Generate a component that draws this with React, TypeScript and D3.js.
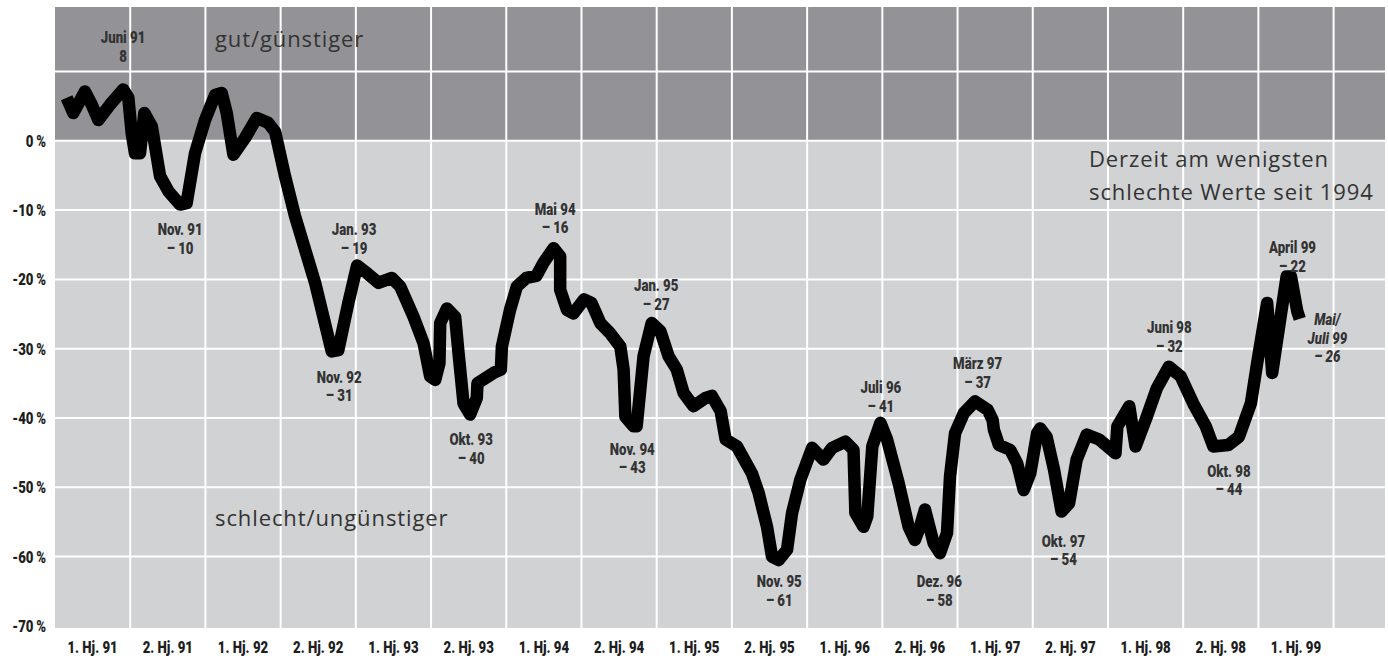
import React from 'react';
import * as d3 from 'd3';

const W = 1388;
const H = 658;

// x axis categories (half years)
const halfYears = [
  '1. Hj. 91', '2. Hj. 91', '1. Hj. 92', '2. Hj. 92', '1. Hj. 93', '2. Hj. 93',
  '1. Hj. 94', '2. Hj. 94', '1. Hj. 95', '2. Hj. 95', '1. Hj. 96', '2. Hj. 96',
  '1. Hj. 97', '2. Hj. 97', '1. Hj. 98', '2. Hj. 98', '1. Hj. 99',
];
const yTicks = [0, -10, -20, -30, -40, -50, -60, -70];
const yGrid = [10, 0, -10, -20, -30, -40, -50, -60];

// months since Jan 1991
const months = [
  0.93, 1.46, 2.39, 2.93, 3.46, 4.39, 5.45, 5.85, 6.12, 6.38, 6.78, 7.13, 7.72, 8.38, 9.05, 9.98,
  10.5, 11.17, 11.97, 12.77, 13.3, 13.7, 14.23, 15.16, 16.1, 17.0, 17.56, 18.36, 19.15, 20.75,
  22.08, 22.6, 23.4, 24.1, 24.9, 25.8, 26.87, 27.53, 28.6, 29.4, 29.93, 30.33, 30.67, 30.73,
  31.26, 31.92, 32.19, 32.59, 33.12, 33.65, 33.7, 34.98, 35.57, 35.65, 36.3, 36.85, 37.6, 38.4,
  38.97, 39.77, 40.3, 40.3, 40.84, 41.37, 42.2, 42.8, 43.5, 44.3, 45.1, 45.36, 45.5, 46.15, 46.4,
  46.95, 47.6, 48.3, 48.95, 49.6, 50.15, 50.94, 51.9, 52.4, 53.1, 53.5, 54.4, 55.6, 56.13, 56.8,
  57.2, 57.73, 58.4, 58.8, 59.46, 60.4, 61.3, 62.0, 63.05, 63.7, 63.85, 64.5, 64.8, 65.2, 65.85,
  66.38, 67.3, 68.1, 68.6, 69.0, 69.4, 70.1, 70.6, 71.16, 71.4, 71.8, 72.5, 73.4, 74.4, 74.8,
  74.9, 75.3, 76.2, 76.75, 77.28, 77.8, 78.35, 78.6, 79.1, 79.7, 80.3, 80.9, 81.5, 82.3, 83.3,
  84.6, 84.75, 85.7, 86.2, 87.0, 87.9, 88.85, 89.8, 90.8, 91.8, 92.4, 93.6, 94.45, 95.4, 95.9,
  96.7, 97.1, 98.25, 98.6, 99.1, 99.3,
];
// balance in %
const values = [
  6.2, 4.0, 7.1, 5.2, 3.0, 5.2, 7.4, 6.2, 1.1, -1.8, -1.8, 4.0, 2.1, -5.1, -7.3, -9.2,
  -9.0, -1.8, 3.0, 6.6, 6.9, 4.0, -2.0, 0.4, 3.3, 2.6, 1.3, -5.2, -10.9, -20.5,
  -30.4, -30.2, -23.4, -18.0, -19.1, -20.5, -19.8, -21.0, -25.4, -29.2, -34.0, -34.5, -32.1, -26.3,
  -24.2, -25.4, -30.6, -37.9, -39.5, -37.1, -35.0, -33.5, -33.0, -29.7, -24.4, -21.0, -19.8, -19.5,
  -17.6, -15.5, -16.7, -21.5, -24.4, -24.9, -22.9, -23.4, -26.3, -27.8, -29.7, -33.0, -39.8, -41.2, -41.2,
  -31.1, -26.3, -27.5, -31.1, -33.0, -36.4, -38.3, -37.1, -36.8, -39.0, -43.1, -44.1, -48.0, -50.8, -55.7,
  -60.0, -60.5, -59.0, -53.7, -48.9, -44.3, -46.0, -44.3, -43.4, -44.6, -53.7, -55.7, -54.2, -44.1, -40.7,
  -43.1, -49.4, -55.7, -57.6, -55.7, -53.2, -58.1, -59.5, -56.6, -48.4, -42.2, -39.3, -37.6, -38.8, -40.3,
  -41.7, -43.9, -44.6, -46.5, -50.4, -48.0, -42.2, -41.5, -42.7, -47.5, -53.5, -52.3, -46.0, -42.4, -43.1,
  -45.1, -41.2, -38.3, -44.1, -40.3, -35.7, -32.6, -34.0, -37.9, -41.2, -44.1, -43.9, -42.7, -37.9, -32.1,
  -23.4, -33.5, -19.6, -19.6, -24.6, -25.7,
];

// callouts: text, anchor month, anchor value (first baseline)
const annText = [
  ['Juni 91', '8'], ['Nov. 91', '\u2013 10'], ['Nov. 92', '\u2013 31'], ['Jan. 93', '\u2013 19'],
  ['Okt. 93', '\u2013 40'], ['Mai 94', '\u2013 16'], ['Nov. 94', '\u2013 43'], ['Jan. 95', '\u2013 27'],
  ['Nov. 95', '\u2013 61'], ['Juli 96', '\u2013 41'], ['Dez. 96', '\u2013 58'], ['März 97', '\u2013 37'],
  ['Okt. 97', '\u2013 54'], ['Juni 98', '\u2013 32'], ['Okt. 98', '\u2013 44'], ['April 99', '\u2013 22'],
];
const annMonth = [5.43, 9.98, 22.67, 23.86, 33.2, 39.9, 46.05, 47.96, 57.78, 65.88, 70.55, 73.6, 80.45, 88.9, 93.65, 98.72];
const annValue = [14.1, -13.6, -34.9, -13.6, -43.9, -10.7, -45.3, -21.7, -64.4, -36.4, -64.4, -33.0, -58.6, -27.8, -48.5, -16.2];
const lastText = ['Mai/', 'Juli 99', '\u2013 26'];
const lastMonth = 101.5;
const lastValue = -26.6;

const humanist = '"Open Sans", "Noto Sans", sans-serif';
const SX = 0.8; // squeeze Roboto into a condensed face

function Cond({ x, y, lines, anchor = 'middle', italic = false, fill = '#333', lh = 18.5 }: {
  x: number; y: number; lines: string[]; anchor?: string; italic?: boolean; fill?: string; lh?: number;
}) {
  return (
    <text transform={`scale(${SX},1)`} x={x / SX} y={y} textAnchor={anchor} fontFamily="Roboto, sans-serif"
      fontWeight={900} fontStyle={italic ? 'italic' : 'normal'} fontSize={16.5} fill={fill}>
      {lines.map((t, j) => (
        <tspan key={j} x={x / SX} dy={j === 0 ? 0 : lh}>{t}</tspan>
      ))}
    </text>
  );
}

export default function App() {
  const x = d3.scaleLinear().domain([0, 106.1]).range([55, 1385]);
  const y = d3.scaleLinear().domain([-70.3, 19.3]).range([628, 7]);

  const pts = months.map((m, i) => [m, values[i]] as [number, number]);
  const line = d3.line<[number, number]>()
    .x(d => x(d[0]))
    .y(d => y(d[1]));

  const capStyle = { fontFamily: humanist, fontSize: 22, letterSpacing: 0.9, fill: '#333' };

  return (
    <div style={{ position: 'absolute', left: 0, top: 0 }}>
      <svg width={W} height={H} style={{ display: 'block', background: '#fff' }}>
        {/* bands */}
        <rect x={x(0)} y={y(19.3)} width={x(106.1) - x(0)} height={y(0) - y(19.3)} fill="#939397" />
        <rect x={x(0)} y={y(0)} width={x(106.1) - x(0)} height={y(-70.3) - y(0)} fill="#d1d2d4" />

        {/* grid */}
        {d3.range(1, halfYears.length + 1).map(k => (
          <line key={'v' + k} x1={x(k * 6)} x2={x(k * 6)} y1={y(19.3)} y2={y(-70.3)} stroke="#fff" strokeWidth={2} />
        ))}
        {yGrid.map(v => (
          <line key={'h' + v} x1={x(0)} x2={x(106.1)} y1={y(v)} y2={y(v)} stroke="#fff" strokeWidth={2} />
        ))}

        {/* y tick labels */}
        {yTicks.map(v => (
          <Cond key={'yt' + v} x={46} y={y(v) + 6} anchor="end" fill="#1e1e1e"
            lines={[`${v === 0 ? '0' : '-' + Math.abs(v)}\u2009%`]} />
        ))}

        {/* x tick labels */}
        {halfYears.map((h, i) => (
          <Cond key={h} x={x(i * 6 + 3)} y={653} fill="#1e1e1e" lines={[h]} />
        ))}

        {/* band captions */}
        <text x={215} y={47} {...capStyle}>gut/günstiger</text>
        <text x={215} y={526} {...capStyle}>schlecht/ungünstiger</text>
        <text x={1089} y={167} {...capStyle}>Derzeit am wenigsten</text>
        <text x={1089} y={200} {...capStyle}>schlechte Werte seit 1994</text>

        {/* series */}
        <path d={line(pts) || ''} fill="none" stroke="#000" strokeWidth={12.5} strokeLinejoin="round" strokeLinecap="butt" />

        {/* callouts */}
        {annText.map((lines, i) => (
          <Cond key={'a' + i} x={x(annMonth[i])} y={y(annValue[i])} lines={lines} />
        ))}
        <Cond x={x(lastMonth)} y={y(lastValue)} lines={lastText} italic />
      </svg>
    </div>
  );
}
